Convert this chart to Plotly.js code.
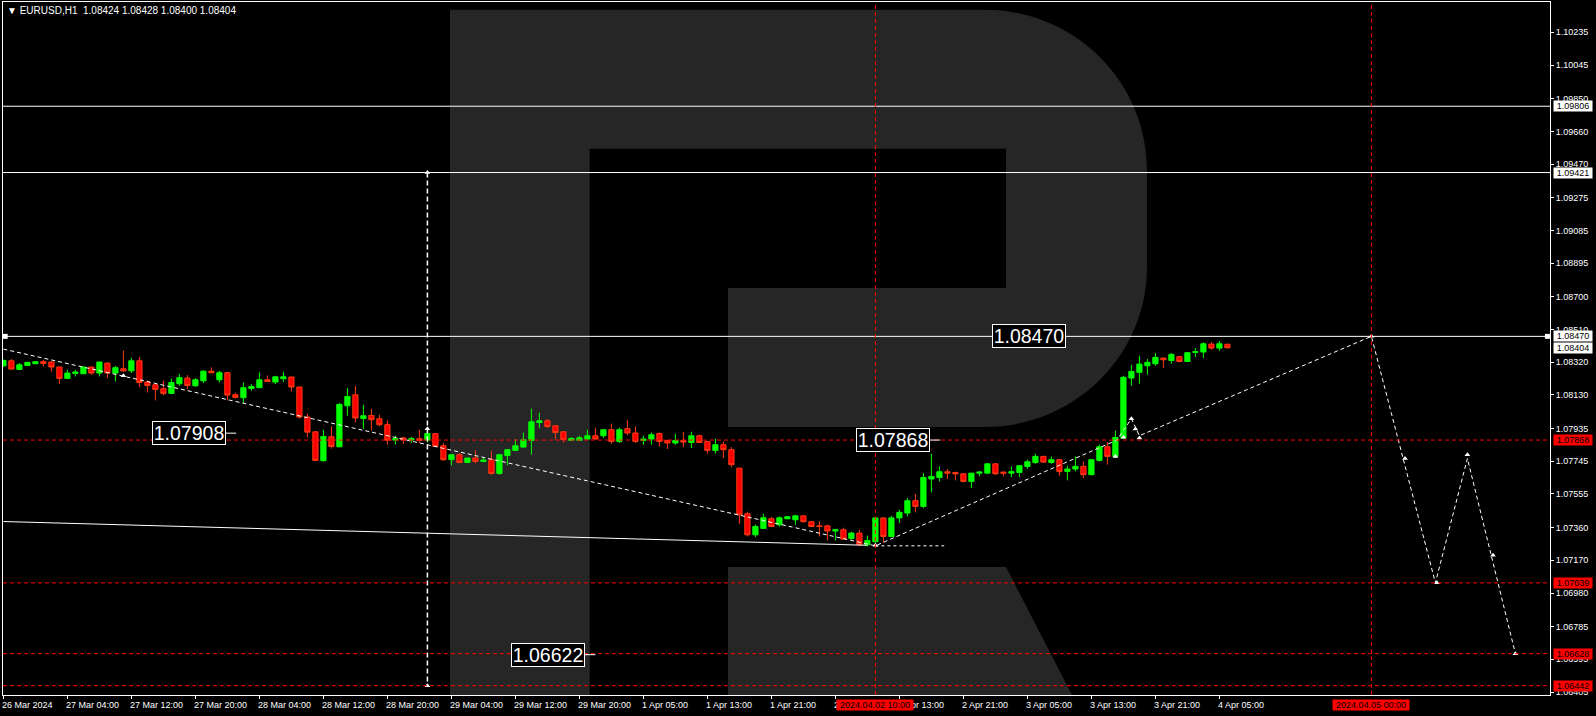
<!DOCTYPE html>
<html><head><meta charset="utf-8">
<script src="https://cdn.plot.ly/plotly-3.0.1.min.js"></script>
<style>html,body{margin:0;padding:0;background:#000;overflow:hidden}#chart{width:1596px;height:716px}</style>
</head><body><div id="chart"></div>
<script>
// ---- Candles (EURUSD H1), bar 0 = 26 Mar 2024 20:00 ----
const open = [
1.08299,1.08328,1.08278,1.08301,1.08311,1.08323,1.08321,1.08292,1.08226,1.08255,
1.08253,1.08292,1.08257,1.08315,1.08257,1.08282,1.08270,1.08328,1.08205,1.08189,
1.08166,1.08139,1.08195,1.08228,1.08183,1.08212,1.08268,1.08218,1.08259,1.08131,
1.08114,1.08168,1.08172,1.08218,1.08205,1.08224,1.08234,1.08176,1.08002,1.07916,
1.07748,1.07887,1.07829,1.08067,1.08131,1.07993,1.08011,1.07992,1.07957,1.07868,
1.07880,1.07868,1.07876,1.07868,1.07905,1.07835,1.07754,1.07783,1.07738,1.07764,
1.07744,1.07754,1.07674,1.07778,1.07808,1.07827,1.07866,1.07970,1.07980,1.07951,
1.07916,1.07866,1.07866,1.07874,1.07893,1.07893,1.07928,1.07860,1.07934,1.07909,
1.07866,1.07874,1.07906,1.07866,1.07851,1.07866,1.07854,1.07893,1.07860,1.07808,
1.07841,1.07812,1.07705,1.07440,1.07318,1.07355,1.07411,1.07376,1.07411,1.07405,
1.07428,1.07394,1.07370,1.07370,1.07340,1.07347,1.07297,1.07328,1.07260,1.07278,
1.07416,1.07308,1.07416,1.07444,1.07516,1.07483,1.07642,1.07651,1.07684,1.07680,
1.07672,1.07628,1.07676,1.07676,1.07730,1.07682,1.07676,1.07680,1.07715,1.07738,
1.07773,1.07738,1.07754,1.07686,1.07700,1.07715,1.07667,1.07750,1.07829,1.07773,
1.07880,1.08228,1.08261,1.08299,1.08311,1.08344,1.08330,1.08352,1.08324,1.08377,
1.08379,1.08425,1.08402,1.08424];
const high = [
1.08336,1.08338,1.08315,1.08323,1.08324,1.08334,1.08324,1.08294,1.08276,1.08276,
1.08295,1.08295,1.08323,1.08319,1.08299,1.08387,1.08346,1.08350,1.08214,1.08189,
1.08212,1.08224,1.08253,1.08245,1.08228,1.08272,1.08290,1.08270,1.08262,1.08143,
1.08202,1.08193,1.08261,1.08243,1.08241,1.08265,1.08235,1.08178,1.08022,1.07918,
1.07928,1.07947,1.08083,1.08170,1.08183,1.08073,1.08050,1.08015,1.07982,1.07893,
1.07887,1.07887,1.07928,1.07918,1.07909,1.07851,1.07783,1.07792,1.07764,1.07808,
1.07769,1.07806,1.07783,1.07815,1.07874,1.07912,1.08050,1.08027,1.07990,1.07953,
1.07918,1.07885,1.07893,1.07928,1.07940,1.07931,1.07963,1.07940,1.07986,1.07947,
1.07893,1.07912,1.07912,1.07867,1.07905,1.07916,1.07916,1.07899,1.07861,1.07876,
1.07860,1.07827,1.07707,1.07452,1.07378,1.07440,1.07423,1.07425,1.07426,1.07434,
1.07430,1.07396,1.07396,1.07376,1.07353,1.07359,1.07336,1.07347,1.07314,1.07419,
1.07418,1.07428,1.07463,1.07531,1.07556,1.07676,1.07789,1.07715,1.07700,1.07684,
1.07676,1.07676,1.07686,1.07735,1.07733,1.07686,1.07715,1.07722,1.07754,1.07789,
1.07777,1.07773,1.07757,1.07719,1.07773,1.07744,1.07758,1.07841,1.07856,1.07922,
1.08241,1.08305,1.08358,1.08338,1.08373,1.08346,1.08373,1.08355,1.08378,1.08402,
1.08435,1.08437,1.08444,1.08428];
const low = [
1.08294,1.08276,1.08276,1.08299,1.08309,1.08295,1.08266,1.08193,1.08222,1.08237,
1.08251,1.08247,1.08237,1.08226,1.08208,1.08263,1.08257,1.08176,1.08144,1.08098,
1.08127,1.08135,1.08183,1.08164,1.08177,1.08199,1.08257,1.08202,1.08098,1.08110,
1.08083,1.08154,1.08170,1.08208,1.08193,1.08205,1.08150,1.07992,1.07885,1.07746,
1.07744,1.07818,1.07827,1.08009,1.07970,1.07932,1.07924,1.07947,1.07841,1.07841,
1.07845,1.07851,1.07851,1.07854,1.07827,1.07748,1.07721,1.07734,1.07736,1.07734,
1.07738,1.07667,1.07667,1.07721,1.07806,1.07826,1.07783,1.07936,1.07938,1.07870,
1.07854,1.07864,1.07864,1.07870,1.07870,1.07880,1.07845,1.07851,1.07895,1.07851,
1.07841,1.07841,1.07831,1.07816,1.07841,1.07827,1.07821,1.07851,1.07789,1.07789,
1.07764,1.07709,1.07382,1.07308,1.07305,1.07353,1.07363,1.07366,1.07409,1.07376,
1.07390,1.07363,1.07308,1.07285,1.07285,1.07289,1.07289,1.07256,1.07250,1.07272,
1.07272,1.07305,1.07386,1.07425,1.07448,1.07473,1.07564,1.07628,1.07642,1.07634,
1.07622,1.07589,1.07657,1.07675,1.07667,1.07657,1.07653,1.07653,1.07701,1.07730,
1.07736,1.07730,1.07661,1.07634,1.07686,1.07647,1.07663,1.07744,1.07725,1.07764,
1.07874,1.08183,1.08195,1.08247,1.08299,1.08286,1.08311,1.08319,1.08323,1.08350,
1.08344,1.08392,1.08386,1.08400];
const close = [
1.08330,1.08280,1.08305,1.08319,1.08323,1.08313,1.08292,1.08226,1.08257,1.08263,
1.08292,1.08257,1.08321,1.08257,1.08288,1.08270,1.08328,1.08202,1.08185,1.08162,
1.08139,1.08202,1.08230,1.08185,1.08218,1.08268,1.08259,1.08259,1.08129,1.08116,
1.08172,1.08179,1.08218,1.08208,1.08235,1.08235,1.08176,1.08002,1.07914,1.07750,
1.07889,1.07831,1.08075,1.08121,1.07996,1.08009,1.07986,1.07957,1.07867,1.07876,
1.07868,1.07876,1.07866,1.07906,1.07831,1.07754,1.07783,1.07738,1.07764,1.07744,
1.07752,1.07674,1.07783,1.07812,1.07835,1.07870,1.07974,1.07980,1.07947,1.07912,
1.07870,1.07877,1.07881,1.07893,1.07874,1.07928,1.07860,1.07928,1.07909,1.07860,
1.07874,1.07899,1.07860,1.07851,1.07866,1.07856,1.07893,1.07854,1.07808,1.07841,
1.07812,1.07725,1.07434,1.07318,1.07366,1.07417,1.07366,1.07417,1.07423,1.07428,
1.07394,1.07366,1.07366,1.07340,1.07347,1.07293,1.07328,1.07260,1.07285,1.07416,
1.07308,1.07416,1.07448,1.07516,1.07483,1.07651,1.07657,1.07684,1.07676,1.07672,
1.07628,1.07676,1.07682,1.07730,1.07672,1.07676,1.07684,1.07719,1.07742,1.07773,
1.07740,1.07754,1.07686,1.07700,1.07715,1.07667,1.07754,1.07829,1.07773,1.07883,
1.08232,1.08266,1.08309,1.08319,1.08348,1.08334,1.08365,1.08324,1.08375,1.08381,
1.08427,1.08402,1.08427,1.08404];

// ---- Time axis ----
const tickBars = [0,8,16,24,32,40,48,56,64,72,80,88,96,104,112,120,128,136,144,152];
const tickLabels = ['26 Mar 2024','27 Mar 04:00','27 Mar 12:00','27 Mar 20:00','28 Mar 04:00','28 Mar 12:00',
  '28 Mar 20:00','29 Mar 04:00','29 Mar 12:00','29 Mar 20:00','1 Apr 05:00','1 Apr 13:00','1 Apr 21:00',
  '2 Apr 05:00','2 Apr 13:00','2 Apr 21:00','3 Apr 05:00','3 Apr 13:00','3 Apr 21:00','4 Apr 05:00'];
const crossBars = [109, 171];
const crossLabels = ['2024.04.02 10:00', '2024.04.05 00:00'];

// ---- Price axis ----
const priceTicks = [1.10235,1.10045,1.09850,1.09660,1.09470,1.09275,1.09085,1.08895,1.08700,1.08510,1.08320,
  1.08130,1.07935,1.07745,1.07555,1.07360,1.07170,1.06980,1.06785,1.06595,1.06405];

// ---- Levels and drawings ----
const whiteLevels = [1.09806, 1.09421, 1.08470];
const redLevels = [1.07868, 1.07039, 1.06628, 1.06442];
const bidPrice = 1.08404;
const zigzagBars = [0, 109, 139.2, 141, 142, 171, 179, 183, 189];
const zigzagPrices = [1.08396, 1.07254, 1.07868, 1.07992, 1.07893, 1.08470, 1.07039, 1.07761, 1.06628];
const trendBars = [0, 108];
const trendPrices = [1.07395, 1.07257];
const baseBars = [109, 117.6];
const basePrices = [1.07254, 1.07254];
const vLineBar = 53;
const vLinePrices = [1.09421, 1.06442];
const arrowBars = [15, 53, 53, 53, 109, 139, 140, 141, 141.5, 142, 171, 175.2, 179.2, 183, 186.2, 189];
const arrowPrices = [1.08241, 1.07934, 1.09421, 1.06442, 1.07257, 1.07773, 1.07885, 1.07992, 1.07932, 1.07880,
  1.08470, 1.07761, 1.07039, 1.07783, 1.07199, 1.06628];
const levelEndBars = [0.22, 193.0];
const textLabels = ['1.07908', '1.07868', '1.06622', '1.08470'];
const textPrices = [1.07908, 1.07868, 1.06622, 1.08470];
const textBars = [27.8, 115.8, 72.7, 128.2];

// ---------------------------------------------------------------
const FONT = 'Liberation Sans, Arial, sans-serif';
const n = close.length;
const bars = open.map((_, i) => i);

const traces = [
  {type:'candlestick', x:bars, open:open, high:high, low:low, close:close,
   increasing:{line:{color:'#00ff00', width:1}, fillcolor:'#00ff00'},
   decreasing:{line:{color:'#ff3a12', width:1}, fillcolor:'#ff0000'},
   whiskerwidth:0, hoverinfo:'skip'},
  {type:'scatter', mode:'lines', x:trendBars, y:trendPrices, line:{color:'#ffffff', width:1}, hoverinfo:'skip'},
  {type:'scatter', mode:'lines', x:baseBars, y:basePrices, line:{color:'#ffffff', width:1, dash:'3px,3px'}, hoverinfo:'skip'},
  {type:'scatter', mode:'lines', x:zigzagBars, y:zigzagPrices, line:{color:'#ffffff', width:1, dash:'4px,3px'}, hoverinfo:'skip'},
  {type:'scatter', mode:'lines', x:[vLineBar, vLineBar], y:vLinePrices, line:{color:'#ffffff', width:1.5, dash:'5px,3px'}, hoverinfo:'skip'},
  {type:'scatter', mode:'markers', x:arrowBars, y:arrowPrices, marker:{symbol:'triangle-up', size:5, color:'#ffffff'}, hoverinfo:'skip'},
  {type:'scatter', mode:'markers', x:levelEndBars, y:[whiteLevels[2], whiteLevels[2]], marker:{symbol:'square', size:5, color:'#ffffff'}, cliponaxis:false, hoverinfo:'skip'}
];

// watermark "R" drawn in paper space from pixel positions of the plot box
function P(x, y){ return ((x-3)/1547).toFixed(5) + ',' + ((695-y)/693).toFixed(5); }
const rPath = 'M' + P(450,9.8) + ' L' + P(985,9.8) + ' C' + P(1074.5,9.8) + ' ' + P(1147,81.6) + ' ' + P(1147,170) +
  ' L' + P(1147,267) + ' C' + P(1147,355.4) + ' ' + P(1074.5,427) + ' ' + P(985,427) +
  ' L' + P(728,427) + ' L' + P(728,288) + ' L' + P(1006,288) + ' L' + P(1006,148.7) + ' L' + P(589.7,148.7) +
  ' L' + P(589.7,695) + ' L' + P(450,695) + ' Z' +
  ' M' + P(728,567) + ' L' + P(1006,567) + ' L' + P(1072,695) + ' L' + P(728,695) + ' Z';

const shapes = [
  {type:'path', xref:'paper', yref:'paper', path:rPath, fillcolor:'#262626', line:{width:0}, layer:'below'}
];
whiteLevels.forEach(v => shapes.push({type:'line', xref:'paper', x0:0, x1:1, yref:'y', y0:v, y1:v, line:{color:'#ffffff', width:1}}));
redLevels.forEach(v => shapes.push({type:'line', xref:'paper', x0:0, x1:1, yref:'y', y0:v, y1:v, line:{color:'#ff0000', width:1, dash:'4px,3px'}}));
crossBars.forEach(b => shapes.push({type:'line', xref:'x', x0:b, x1:b, yref:'paper', y0:0, y1:1, line:{color:'#ff0000', width:1, dash:'4px,3px'}}));
// connectors to the right of text labels
[0,1,2].forEach(k => shapes.push({type:'line', xref:'x', x0:textBars[k], x1:textBars[k]+1.3, yref:'y', y0:textPrices[k], y1:textPrices[k], line:{color:'#ffffff', width:1}}));

const annotations = [];
// title
annotations.push({xref:'paper', yref:'paper', x:0, y:1, xanchor:'left', yanchor:'middle', xshift:2, yshift:-8.5,
  showarrow:false, text:'\u25BC EURUSD,H1  ' + [open[n-1], high[n-1], low[n-1], close[n-1]].map(v => v.toFixed(5)).join(' '),
  font:{family:FONT, size:10, color:'#ffffff'}});
// time labels (left aligned at tick)
tickBars.forEach((b, k) => annotations.push({xref:'x', yref:'paper', x:b, y:0, xanchor:'left', yanchor:'middle',
  xshift:-2, yshift:-10, showarrow:false, text:tickLabels[k], borderpad:0, font:{family:FONT, size:9, color:'#ffffff'}}));
// crosshair time boxes
crossBars.forEach((b, k) => annotations.push({xref:'x', yref:'paper', x:b, y:0, xanchor:'center', yanchor:'middle',
  yshift:-10, showarrow:false, text:crossLabels[k], bgcolor:'#ff0000', borderpad:0, width:76, height:10,
  font:{family:FONT, size:9, color:'#000000'}}));
// price boxes on axis
whiteLevels.concat([bidPrice]).forEach(v => annotations.push({xref:'paper', yref:'y', x:1, y:v, xanchor:'left', yanchor:'middle',
  xshift:2.5, showarrow:false, text:v.toFixed(5), bgcolor:'#ffffff', borderpad:0, width:38, height:10,
  font:{family:FONT, size:9, color:'#000000'}}));
redLevels.forEach(v => annotations.push({xref:'paper', yref:'y', x:1, y:v, xanchor:'left', yanchor:'middle',
  xshift:2.5, showarrow:false, text:v.toFixed(5), bgcolor:'#ff0000', borderpad:0, width:38, height:10,
  font:{family:FONT, size:9, color:'#000000'}}));
// big text labels
textLabels.forEach((t, k) => annotations.push({xref:'x', yref:'y', x:textBars[k], y:textPrices[k],
  xanchor: k === 3 ? 'center' : 'right', yanchor:'middle', showarrow:false, text:t,
  bgcolor:'#000000', bordercolor:'#ffffff', borderwidth:1, borderpad:0, width:72, height:22,
  font:{family:FONT, size:19.5, color:'#ffffff'}}));

const layout = {
  width:1596, height:716,
  margin:{l:3, r:46, t:2, b:21, pad:0},
  paper_bgcolor:'#000000', plot_bgcolor:'#000000',
  font:{family:FONT, color:'#ffffff'},
  showlegend:false, hovermode:false, dragmode:false,
  boxgap:0.35, boxgroupgap:0,
  xaxis:{type:'linear', range:[-0.05, 193.325], showgrid:false, zeroline:false, showline:true, linecolor:'#ffffff',
    linewidth:1, mirror:true, ticks:'outside', ticklen:3, tickcolor:'#ffffff', tickmode:'array', tickvals:tickBars,
    showticklabels:false, rangeslider:{visible:false}, fixedrange:true},
  yaxis:{side:'right', range:[1.06388, 1.10411], showgrid:false, zeroline:false, showline:true, linecolor:'#ffffff',
    linewidth:1, mirror:true, ticks:'outside', ticklen:3, tickcolor:'#ffffff', tickmode:'array', tickvals:priceTicks,
    ticktext:priceTicks.map(v => v.toFixed(5)), tickfont:{family:FONT, size:9, color:'#ffffff'}, fixedrange:true},
  shapes:shapes, annotations:annotations
};

Plotly.newPlot('chart', traces, layout, {staticPlot:true, displayModeBar:false});
</script>
</body></html>
